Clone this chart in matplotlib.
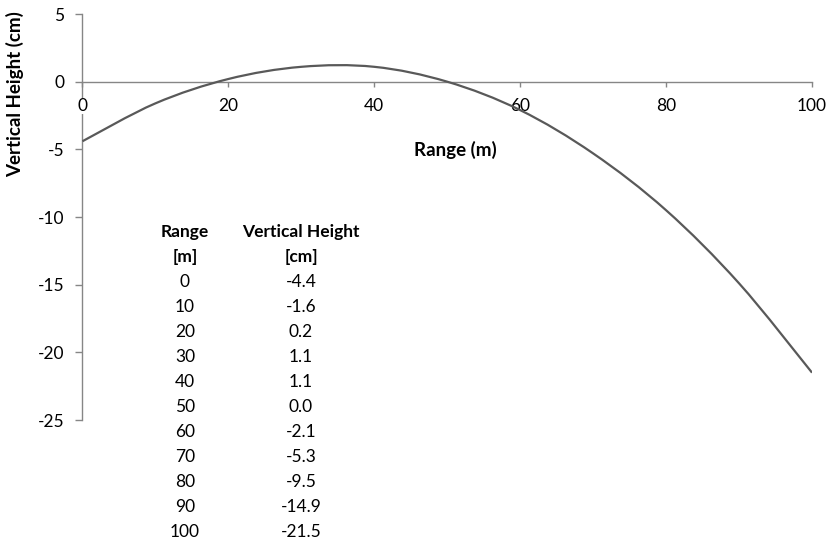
import numpy as np
import matplotlib
matplotlib.use("Agg")
import matplotlib.pyplot as plt
from matplotlib.path import Path
from matplotlib.patches import PathPatch

plt.rcParams['font.family'] = ['Lato', 'DejaVu Sans']
plt.rcParams['axes.unicode_minus'] = False

# 資料
range_m = [0, 10, 20, 30, 40, 50, 60, 70, 80, 90, 100]
height_cm = [-4.4, -1.6, 0.2, 1.1, 1.1, 0.0, -2.1, -5.3, -9.5, -14.9, -21.5]
x_ticks = [0, 20, 40, 60, 80, 100]
y_ticks = [-25, -20, -15, -10, -5, 0, 5]

fig = plt.figure(figsize=(8.33, 5.4), dpi=100)
ax = fig.add_axes([0.099, 0.2222, 0.8758, 0.7518])

# 平滑曲線 (像 Excel 的 smoothed line，用 Bezier 畫)
pts = np.column_stack([range_m, height_cm])
verts = [pts[0]]
codes = [Path.MOVETO]
n = len(pts)
for i in range(n - 1):
    p0 = pts[max(i - 1, 0)]
    p1 = pts[i]
    p2 = pts[i + 1]
    p3 = pts[min(i + 2, n - 1)]
    c1 = p1 + (p2 - p0) / 6
    c2 = p2 - (p3 - p1) / 6
    verts += [c1, c2, p2]
    codes += [Path.CURVE4] * 3
curve = PathPatch(Path(verts, codes), facecolor='none', edgecolor='#595959',
                  lw=1.6, zorder=2)
ax.add_patch(curve)

ax.set_xlim(0, 100)
ax.set_ylim(-25, 5)
ax.set_xticks(x_ticks)
ax.set_yticks(y_ticks)

ax.spines['top'].set_visible(False)
ax.spines['right'].set_visible(False)
ax.spines['bottom'].set_position(('data', 0))
for s in ['left', 'bottom']:
    ax.spines[s].set_color('#868686')
    ax.spines[s].set_linewidth(1.0)
    ax.spines[s].set_zorder(1)

ax.tick_params(axis='both', direction='out', width=1.0,
               color='#868686', labelsize=12.5, labelcolor='black')
ax.tick_params(axis='x', length=3.5, pad=8)
ax.tick_params(axis='y', length=5, pad=8)
for lbl in ax.get_xticklabels():
    lbl.set_bbox(dict(facecolor='white', edgecolor='none', pad=0))
    lbl.set_zorder(3)

# 軸標題
fig.text(15 / 833, 1 - 94 / 540, 'Vertical Height (cm)', rotation=90,
         ha='center', va='center', fontsize=13.5, fontweight='bold')
fig.text(455 / 833, 1 - 150 / 540, 'Range (m)', ha='center', va='center',
         fontsize=13.5, fontweight='bold')

# 數據表
col1_x = 185 / 833
col2_x = 301 / 833
y0 = 231.7
dy = 25
fig.text(col1_x, 1 - y0 / 540, 'Range', ha='center', va='center',
         fontsize=12.5, fontweight='bold')
fig.text(col1_x, 1 - (y0 + dy) / 540, '[m]', ha='center', va='center',
         fontsize=12.5, fontweight='bold')
fig.text(col2_x, 1 - y0 / 540, 'Vertical Height', ha='center', va='center',
         fontsize=12.5, fontweight='bold')
fig.text(col2_x, 1 - (y0 + dy) / 540, '[cm]', ha='center', va='center',
         fontsize=12.5, fontweight='bold')
for i, (r, h) in enumerate(zip(range_m, height_cm)):
    yy = 1 - (y0 + dy * (i + 2)) / 540
    fig.text(col1_x, yy, f'{r}', ha='center', va='center', fontsize=12.5)
    fig.text(col2_x, yy, f'{h:.1f}', ha='center', va='center', fontsize=12.5)

fig.savefig('out.png', dpi=100)
